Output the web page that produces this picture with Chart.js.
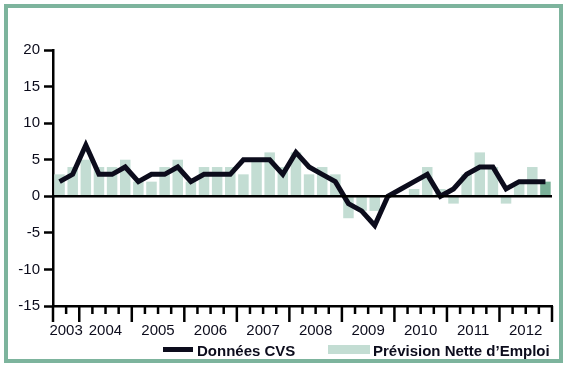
<!DOCTYPE html>
<html>
<head>
<meta charset="utf-8">
<script src="https://cdn.jsdelivr.net/npm/chart.js@4"></script>
<style>
  html, body { margin: 0; padding: 0; background: #fff; }
  #wrap { position: relative; width: 566px; height: 367px; overflow: hidden; }
  #frame {
    position: absolute; left: 4px; top: 4px; width: 559px; height: 359px;
    box-sizing: border-box; border: 4px solid #7db49d; pointer-events: none;
  }
  canvas { position: absolute; left: 0; top: 0; }
  .leg { position: absolute; font: bold 15px "Liberation Sans", Arial, sans-serif; color: #0c0c1c; line-height: 18px; white-space: nowrap; }
  .swatch { position: absolute; }
</style>
</head>
<body>
<div id="wrap">
  <canvas id="chart" width="566" height="367"></canvas>
  <div id="frame"></div>
  <div class="swatch" style="left:163px;top:347px;width:30px;height:5px;background:#0c0c1c;"></div>
  <div class="leg" style="left:197px;top:342px;">Données CVS</div>
  <div class="swatch" style="left:328px;top:345px;width:42px;height:9px;background:#c3ddd3;"></div>
  <div class="leg" style="left:373px;top:342px;">Prévision Nette d’Emploi</div>
</div>
<script>
const quarters = [
  '2003 T3', '2003 T4',
  '2004 T1', '2004 T2', '2004 T3', '2004 T4',
  '2005 T1', '2005 T2', '2005 T3', '2005 T4',
  '2006 T1', '2006 T2', '2006 T3', '2006 T4',
  '2007 T1', '2007 T2', '2007 T3', '2007 T4',
  '2008 T1', '2008 T2', '2008 T3', '2008 T4',
  '2009 T1', '2009 T2', '2009 T3', '2009 T4',
  '2010 T1', '2010 T2', '2010 T3', '2010 T4',
  '2011 T1', '2011 T2', '2011 T3', '2011 T4',
  '2012 T1', '2012 T2', '2012 T3', '2012 T4'
];

// Prévision Nette d'Emploi (bars)
const prevision = [
  3, 4,
  5, 4, 4, 5,
  2, 2, 4, 5,
  2, 4, 4, 4,
  3, 5, 6, 4,
  6, 3, 4, 3,
  -3, -2, -2, 0,
  0, 1, 4, 1,
  -1, 3, 6, 4,
  -1, 2, 4, 2
];

// Données CVS (line)
const donneesCVS = [
  2, 3,
  7, 3, 3, 4,
  2, 3, 3, 4,
  2, 3, 3, 3,
  5, 5, 5, 3,
  6, 4, 3, 2,
  -1, -2, -4, 0,
  1, 2, 3, 0,
  1, 3, 4, 4,
  1, 2, 2, 2
];

const yTicks = [-15, -10, -5, 0, 5, 10, 15, 20];

const barLight = '#c3ddd3';
const barDark = '#7ab098';
const ink = '#0c0c1c';
const fontFamily = '"Liberation Sans", Arial, sans-serif';

// quarter ticks under the x axis, long at each year start
const quarterTicks = {
  id: 'quarterTicks',
  afterDatasetsDraw(chart) {
    const { ctx, chartArea } = chart;
    const x = chart.scales.x;
    const y = chart.scales.y;
    const slot = x.getPixelForValue(1) - x.getPixelForValue(0);

    ctx.save();
    ctx.strokeStyle = '#000';
    ctx.lineWidth = 2.5;

    // zero line
    const y0 = y.getPixelForValue(0);
    ctx.beginPath();
    ctx.moveTo(chartArea.left, y0);
    ctx.lineTo(chartArea.right, y0);
    ctx.stroke();

    for (let j = 0; j <= quarters.length; j++) {
      const px = j < quarters.length ? x.getPixelForValue(j) - slot / 2 : x.getPixelForValue(j - 1) + slot / 2;
      const isMajor = j === 0 || j === quarters.length || quarters[j].endsWith('T1');
      ctx.beginPath();
      ctx.moveTo(px, chartArea.bottom);
      ctx.lineTo(px, chartArea.bottom + (isMajor ? 16 : 8));
      ctx.stroke();
    }
    ctx.restore();
  }
};

new Chart(document.getElementById('chart'), {
  type: 'bar',
  data: {
    labels: quarters,
    datasets: [
      {
        type: 'line',
        label: 'Données CVS',
        data: donneesCVS,
        borderColor: ink,
        borderWidth: 5,
        pointRadius: 0,
        tension: 0,
        borderJoinStyle: 'miter',
        order: 0,
      },
      {
        label: "Prévision Nette d'Emploi",
        data: prevision,
        backgroundColor: prevision.map((v, i) => (i === prevision.length - 1 ? barDark : barLight)),
        barPercentage: 0.8,
        categoryPercentage: 1.0,
        order: 1,
      },
    ],
  },
  options: {
    responsive: false,
    animation: false,
    devicePixelRatio: 1,
    layout: { padding: { top: 50, right: 14, bottom: 31, left: 0 } },
    plugins: { legend: { display: false }, tooltip: { enabled: false } },
    scales: {
      x: {
        grid: { display: false, drawTicks: false },
        border: { display: true, color: '#000', width: 2.5 },
        ticks: {
          autoSkip: false,
          maxRotation: 0,
          padding: 16,
          labelOffset: 6.5,
          color: ink,
          font: { family: fontFamily, size: 15 },
          callback: (value, index) => {
            const [year, q] = quarters[index].split(' ');
            return q === 'T2' || index === 0 ? year : '';
          },
        },
        afterFit: (scale) => { scale.height = 30; },
      },
      y: {
        min: -15,
        max: 20,
        afterBuildTicks: (scale) => { scale.ticks = yTicks.map((v) => ({ value: v })); },
        grid: { drawOnChartArea: false, tickLength: 9, tickColor: '#000', tickWidth: 2.5 },
        border: { display: true, color: '#000', width: 2.5 },
        ticks: {
          padding: 4,
          color: ink,
          font: { family: fontFamily, size: 15 },
        },
        afterFit: (scale) => { scale.width = 53; },
      },
    },
  },
  plugins: [quarterTicks],
});
</script>
</body>
</html>
